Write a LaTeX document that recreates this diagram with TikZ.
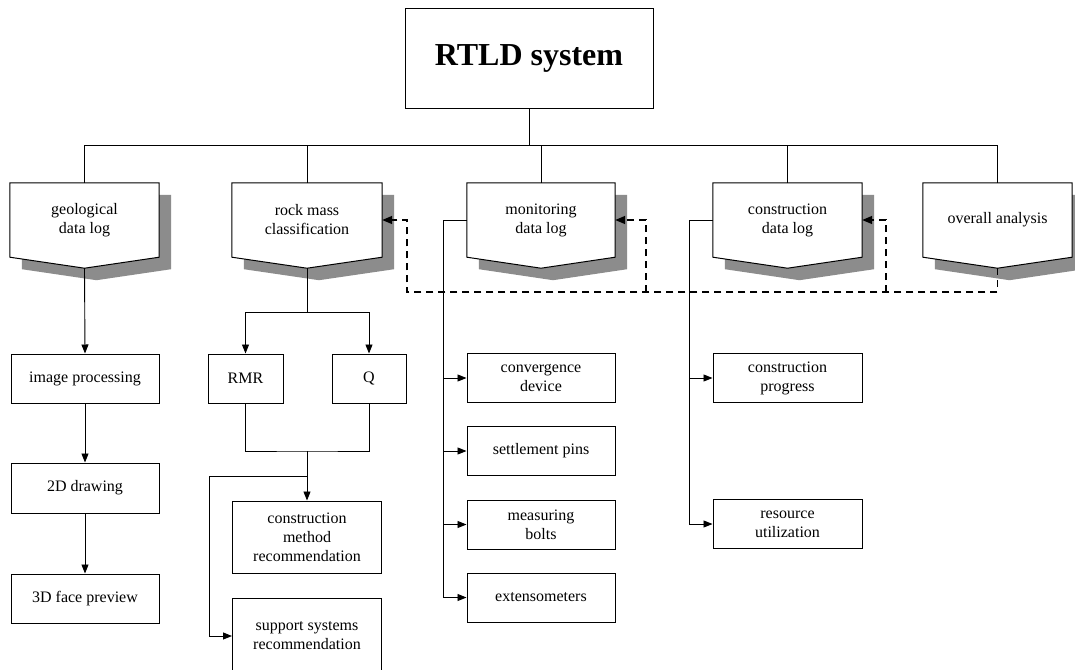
\documentclass[tikz,border=0pt]{standalone}
\usepackage{fontspec}
\setmainfont{Liberation Serif}
\usetikzlibrary{arrows.meta,backgrounds,calc}
\tikzset{
  txt/.style={font=\fontsize{16}{19}\selectfont, align=center, inner sep=0pt},
  box/.style={txt, draw, line width=1pt, minimum width=148pt, minimum height=49pt},
  pent/.style={txt, minimum width=149pt, minimum height=74pt},
  topbox/.style={draw, line width=1pt, minimum width=248pt, minimum height=99pt, inner sep=0pt,
    font=\fontsize{32}{38}\selectfont\bfseries},
  conn/.style={line width=0.9pt},
  arr/.style={conn, -{Triangle[length=9pt,width=7pt]}},
  dsh/.style={line width=1.4pt, dash pattern=on 7pt off 5pt},
  dsharr/.style={dsh, -{Triangle[length=10pt,width=8pt]}},
}
\newcommand\pentshape[1]{%
  \fill[black!45] ($(#1.north west)+(12,12)$) -- ($(#1.north east)+(12,12)$) --
    ($(#1.south east)+(12,12)$) -- ($(#1.south)+(12,23)$) -- ($(#1.south west)+(12,12)$) -- cycle;
  \draw[fill=white, line width=1pt] (#1.north west) -- (#1.north east) -- (#1.south east) --
    ($(#1.south)+(0,11)$) -- (#1.south west) -- cycle;}
\begin{document}
\begin{tikzpicture}[x=1pt, y=-1pt]
\useasboundingbox (0,0) rectangle (1075,669);

% top
\node[topbox] (top) at (529,58.5) {RTLD system};

% second level
\node[pent] (geo) at (84.5,220) {geological\\data log};
\node[pent, minimum width=150pt] (rock) at (307,220) {rock mass\\classification};
\node[pent, minimum width=148pt] (mon) at (541,220) {monitoring\\data log};
\node[pent] (con) at (787.5,220) {construction\\data log};
\node[pent] (ovr) at (997.5,220) {overall analysis};

\begin{pgfonlayer}{background}
  \fill[white] (0,0) rectangle (1075,669);
  \pentshape{geo}
  \pentshape{rock}
  \pentshape{mon}
  \pentshape{con}
  \pentshape{ovr}
\end{pgfonlayer}

% bus
\coordinate (j) at (529,145);
\draw[conn] (top.south) -- (j);
\foreach \n in {geo,rock,mon,con,ovr} \draw[conn] (j) -| (\n.north);

% geological column
\node[box] (imgp) at (85,378.5) {image processing};
\node[box, minimum height=50pt] (d2) at (85,488) {2D drawing};
\node[box] (d3) at (85,598.5) {3D face preview};
\draw[arr] ($(geo.south)+(0,11)$) -- (imgp.north);
\draw[arr] (imgp) -- (d2);
\draw[arr] (d2) -- (d3);

% rock mass column
\coordinate (rj) at (307,312);
\draw[conn] ($(rock.south)+(0,11)$) -- (rj);
\node[box, minimum width=75pt] (rmr) at (245.5,378.5) {RMR};
\node[box, minimum width=74pt] (q) at (369,378.5) {Q};
\draw[arr] (rj) -| (rmr.north);
\draw[arr] (rj) -| (q.north);
\coordinate (rj2) at (307,451);
\draw[conn] (rmr.south) |- (rj2) -| (q.south);
\node[box, minimum width=149pt, minimum height=72pt] (cmr) at (307,537) {construction\\method\\recommendation};
\draw[arr] (rj2) -- (cmr.north);
\coordinate (rj3) at (307,476);
\coordinate (rl) at (209,476);
\node[box, minimum width=149pt, minimum height=76pt] (ssr) at (307,636) {support systems\\recommendation};
\draw[arr] (rj3) -- (rl) |- (ssr.west);

% monitoring column
\coordinate (mtop) at (443,220);
\node[box] (conv) at (541,378) {convergence\\device};
\node[box] (sett) at (541,451) {settlement pins};
\node[box] (meas) at (541,524.5) {measuring\\bolts};
\node[box] (ext) at (541,597.5) {extensometers};
\draw[conn] (mon.west) -- (mtop) -- (mtop |- ext.west);
\foreach \b in {conv,sett,meas,ext} \draw[arr] (mtop |- \b.west) -- (\b.west);

% construction column
\coordinate (ctop) at (689,220);
\node[box, minimum width=149pt] (prog) at (787.5,378) {construction\\progress};
\node[box, minimum width=149pt] (res) at (787.5,524) {resource\\utilization};
\draw[conn] (con.west) -- (ctop) -- (ctop |- res.west);
\foreach \b in {prog,res} \draw[arr] (ctop |- \b.west) -- (\b.west);

% dashed feedback
\coordinate (dR) at (997.5,292);
\coordinate (dL) at (407,292);
\coordinate (m2) at (646,292);
\coordinate (c2) at (886,292);
\draw[dsharr] ($(ovr.south)+(0,11)$) -- (dR) -- (dL) |- (rock.east);
\draw[dsharr] (m2) |- (mon.east);
\draw[dsharr] (c2) |- (con.east);
\end{tikzpicture}
\end{document}
